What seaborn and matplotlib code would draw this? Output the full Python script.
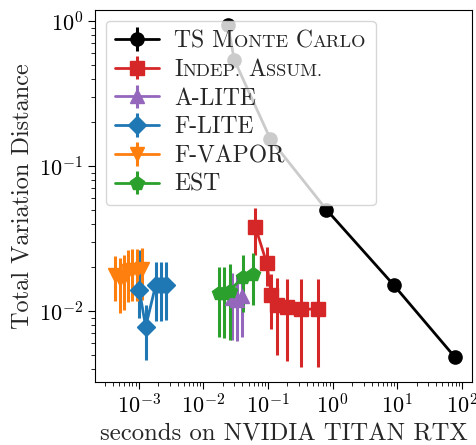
import matplotlib
matplotlib.use("Agg")
import matplotlib.pyplot as plt
from matplotlib.offsetbox import TextArea, HPacker
from matplotlib.ticker import LogLocator, NullFormatter
import seaborn as sns

# ---- data ----
ts_x = [0.024, 0.030, 0.109, 0.80, 8.8, 78.0]
ts_y = [0.93, 0.54, 0.153, 0.050, 0.0151, 0.0048]
ts_err = [0.0, 0.0, 0.0, 0.0, 0.0, 0.0]

indep_x = [0.064, 0.0957, 0.113, 0.138, 0.198, 0.322, 0.597]
indep_y = [0.0378, 0.0213, 0.0128, 0.0110, 0.0106, 0.0103, 0.0103]
indep_err = [0.0135, 0.0065, 0.0053, 0.0060, 0.0061, 0.0062, 0.0062]

alite_x = [0.0275, 0.0330, 0.0395]
alite_y = [0.0123, 0.0120, 0.0126]
alite_err = [0.0060, 0.0058, 0.0060]

flite_x = [0.00102, 0.00128, 0.00183, 0.00219, 0.00262]
flite_y = [0.0140, 0.0078, 0.0151, 0.0151, 0.0152]
flite_err_lo = [0.0050, 0.0032, 0.0066, 0.0066, 0.0066]
flite_err_hi = [0.0125, 0.0032, 0.0066, 0.0066, 0.0066]

fvapor_x = [0.000425, 0.000508, 0.000601, 0.000683, 0.000787, 0.000941, 0.001125]
fvapor_y = [0.0178, 0.0165, 0.0172, 0.0190, 0.0193, 0.0193, 0.0195]
fvapor_err = [0.0060, 0.0068, 0.0070, 0.0074, 0.0075, 0.0075, 0.0075]

est_x = [0.01775, 0.0207, 0.0254, 0.0407, 0.0587]
est_y = [0.0133, 0.0133, 0.0137, 0.0172, 0.0180]
est_err = [0.0067, 0.0068, 0.0074, 0.0073, 0.0070]

labels = ["TS Monte Carlo", "Indep. Assum.", "A-LITE", "F-LITE", "F-VAPOR", "EST"]
# small-caps rendering of the first two labels: (text, full-size?)
smallcaps = {
    "TS Monte Carlo": [("TS M", True), ("ONTE", False), (" C", True), ("ARLO", False)],
    "Indep. Assum.": [("I", True), ("NDEP.", False), (" A", True), ("SSUM.", False)],
}

# ---- style ----
sns.set_style("ticks", rc={"axes.edgecolor": "black", "axes.linewidth": 1.25,
                           "xtick.color": "black", "ytick.color": "black"})
pal = sns.color_palette("tab10")
FAM = ['cmr10', 'DejaVu Serif']
plt.rcParams['font.family'] = FAM
plt.rcParams['mathtext.fontset'] = 'cm'
plt.rcParams['axes.formatter.use_mathtext'] = True
plt.rcParams['xtick.major.size'] = 5
plt.rcParams['ytick.major.size'] = 5
plt.rcParams['xtick.minor.size'] = 3
plt.rcParams['ytick.minor.size'] = 3

LEG_FS = 17
SMALL_FS = 13.3

fig = plt.figure(figsize=(4.77, 4.45), dpi=100)
ax = fig.add_axes([0.199, 0.1416, 0.7905, 0.836])

series = [
    (ts_x, ts_y, ts_err, "black", "o", 9.5),
    (indep_x, indep_y, indep_err, pal[3], "s", 9.5),
    (alite_x, alite_y, alite_err, pal[4], "^", 10.5),
    (flite_x, flite_y, [flite_err_lo, flite_err_hi], pal[0], "D", 9.5),
    (fvapor_x, fvapor_y, fvapor_err, pal[1], "v", 10.5),
    (est_x, est_y, est_err, pal[2], "p", 10.5),
]
for (x, y, e, c, m, ms), lab in zip(series, labels):
    ax.errorbar(x, y, yerr=e, fmt='-', marker=m, color=c, ms=ms, lw=2,
                elinewidth=2.2, capsize=0, label=lab)

ax.set_xscale("log")
ax.set_yscale("log")
ax.set_xlim(2.1e-4, 1.43e2)
ax.set_ylim(3.24e-3, 1.19)
for axis in (ax.xaxis, ax.yaxis):
    axis.set_major_locator(LogLocator(base=10, numticks=30))
    axis.set_minor_locator(LogLocator(base=10, subs=range(2, 10), numticks=30))
    axis.set_minor_formatter(NullFormatter())
ax.tick_params(labelsize=16)
ax.set_xlabel("seconds on NVIDIA TITAN RTX", fontsize=17.8)
ax.set_ylabel("Total Variation Distance", fontsize=17.5)
leg = ax.legend(loc="upper left", fontsize=LEG_FS, handlelength=1.85,
                handletextpad=0.65, labelspacing=0.28, borderaxespad=0.45)

# replace two labels with small-caps versions
for col in leg._legend_handle_box.get_children():
    for row in col.get_children():
        kids = row.get_children()
        tb = kids[1]
        txt = tb.get_text() if hasattr(tb, "get_text") else None
        if txt in smallcaps:
            parts = []
            for s, big in smallcaps[txt]:
                parts.append(TextArea(s, textprops=dict(
                    fontsize=LEG_FS if big else SMALL_FS, family=FAM,
                    verticalalignment='baseline', horizontalalignment='left')))
            box = HPacker(children=parts, pad=0, sep=0, align='baseline')
            box.set_figure(fig)
            row._children[1] = box

fig.savefig("out.png", dpi=100)
